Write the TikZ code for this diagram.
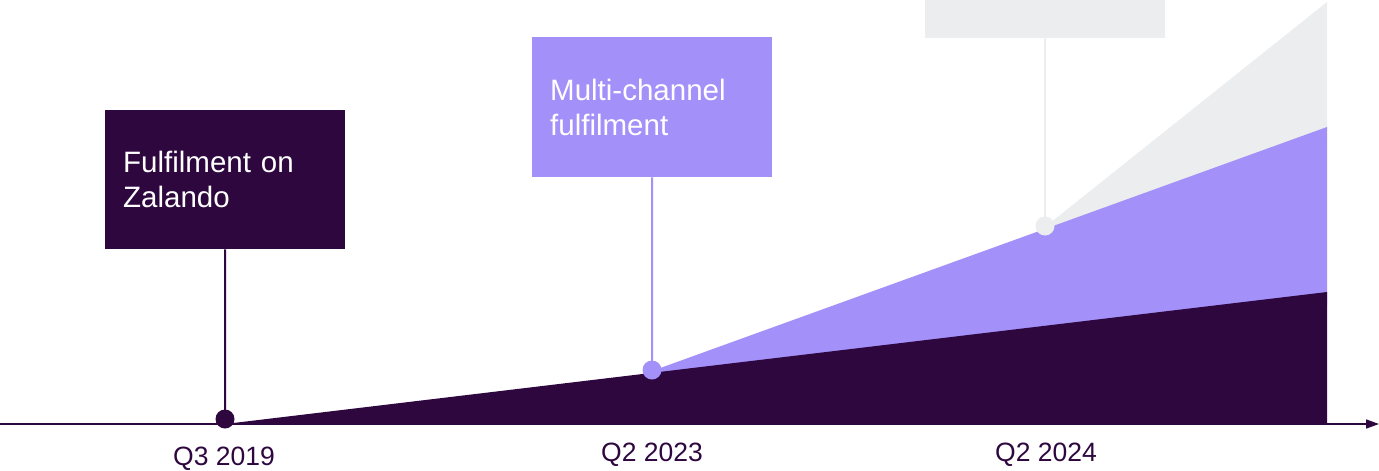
\documentclass[tikz,border=0pt]{standalone}
\usepackage{fontspec}
\setmainfont{Liberation Sans}
\usetikzlibrary{arrows.meta}
\definecolor{zdark}{HTML}{2E073F}
\definecolor{zpurple}{HTML}{A391F9}
\definecolor{zgrey}{HTML}{ECEDEE}
\begin{document}
\begin{tikzpicture}[x=1pt,y=-1pt,
  box/.style={inner sep=0pt, inner xsep=18pt, minimum width=240pt, text width=204pt, align=left,
    text=white, font=\fontsize{29.5}{35}\selectfont, anchor=north west},
  dot/.style={circle, inner sep=0pt, minimum size=19pt},
  conn/.style={line width=2pt},
  datelabel/.style={text=zdark, font=\fontsize{26.5}{30}\selectfont, inner sep=0pt}]
\useasboundingbox (0,0) rectangle (1379,471);
% stacked areas (each overlaps under the next to avoid seams)
\fill[zgrey] (1045,227) -- (1327,2) -- (1327,140) -- (1045,240) -- cycle;
\fill[zpurple] (652,371) -- (1327,127) -- (1327,305) -- (652,385) -- cycle;
\fill[zdark] (225,424) -- (1327,292) -- (1327,424) -- cycle;
% axis
\coordinate (axstart) at (0,424);
\coordinate (axend) at (1379,424);
\draw[zdark, line width=1.6pt, -{Triangle[length=13pt,width=9pt]}] (axstart) -- (axend);
% boxes
\node[box, fill=zdark, minimum height=139pt] (b1) at (105,110) {Fulfilment on\\Zalando};
\node[box, fill=zpurple, minimum height=140pt] (b2) at (532,37) {Multi-channel\\fulfilment};
\node[box, fill=zgrey, minimum height=38pt] (b3) at (925,0) {};
% connectors
\coordinate (c1) at (225,419);
\coordinate (c2) at (652,370);
\coordinate (c3) at (1045,226);
\draw[conn, zdark] (b1.south) -- (c1);
\draw[conn, zpurple] (b2.south) -- (c2);
\draw[conn, zgrey] (b3.south) -- (c3);
% dots
\node[dot, fill=zdark] (d1) at (c1) {};
\node[dot, fill=zpurple] (d2) at (c2) {};
\node[dot, fill=zgrey] (d3) at (c3) {};
% date labels
\node[datelabel] (l1) at (224,459) {Q3 2019};
\node[datelabel] (l2) at (652,455) {Q2 2023};
\node[datelabel] (l3) at (1046,455) {Q2 2024};
\end{tikzpicture}
\end{document}
